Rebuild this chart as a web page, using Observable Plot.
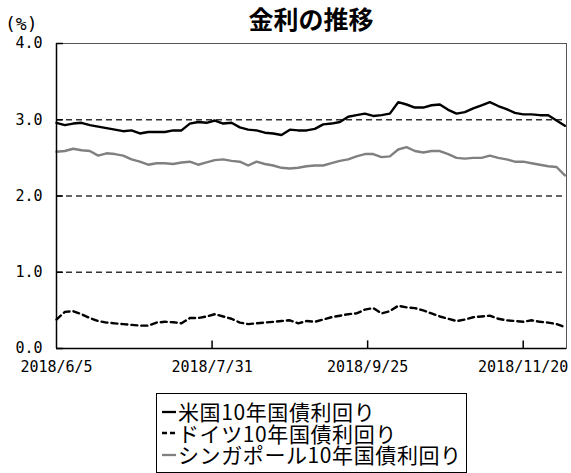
<!DOCTYPE html>
<html>
<head>
<meta charset="utf-8">
<script src="https://cdn.jsdelivr.net/npm/d3@7"></script>
<script src="https://cdn.jsdelivr.net/npm/@observablehq/plot@0.6"></script>
<style>
  body { margin: 0; background: #fff; }
  #wrap { position: relative; width: 571px; height: 473px; overflow: hidden; }
  #title { position: absolute; left: 56px; width: 510px; top: 3px; text-align: center;
           font: bold 25px "Noto Sans CJK JP"; line-height: 30px; color: #000; }
  #unit { position: absolute; left: 5px; top: 14px; height: 19px; font: 18px "DejaVu Sans Mono"; line-height: 19px; color: #000; }
  #chart { position: absolute; left: 0; top: 0; }
  #legend { position: absolute; left: 156px; top: 393px; width: 311px; height: 80px; box-sizing: border-box;
            border: 1.5px solid #000; padding-top: 7px; font: 21px "Noto Sans CJK JP"; letter-spacing: 0.6px; color: #000; }
  .row { display: flex; align-items: center; height: 21.5px; line-height: 21.5px; white-space: nowrap; overflow: visible; }
  .row svg { margin-left: 5px; margin-right: 2px; flex: none; }
  .row span { display: inline-block; height: 21.5px; line-height: 21.5px; overflow: visible; }
</style>
</head>
<body>
<div id="wrap">
  <div id="chart"></div>
  <div id="title"></div>
  <div id="unit"></div>
  <div id="legend"></div>
</div>
<script>
const titleText = "金利の推移";
const unitText = "(%)";
const seriesNames = ["米国10年国債利回り", "ドイツ10年国債利回り", "シンガポール10年国債利回り"];
const xTickLabels = ["2018/6/5", "2018/7/31", "2018/9/25", "2018/11/20"];
const yTicks = [0, 1, 2, 3, 4];
const gridLevels = [1, 2, 3];

const dates = [
  "2018-06-05","2018-06-08","2018-06-11","2018-06-14","2018-06-17","2018-06-20","2018-06-23","2018-06-26","2018-06-29","2018-07-02",
  "2018-07-05","2018-07-08","2018-07-11","2018-07-14","2018-07-17","2018-07-20","2018-07-23","2018-07-26","2018-07-29","2018-08-01",
  "2018-08-04","2018-08-07","2018-08-10","2018-08-13","2018-08-16","2018-08-19","2018-08-22","2018-08-25","2018-08-28","2018-08-31",
  "2018-09-03","2018-09-06","2018-09-09","2018-09-12","2018-09-15","2018-09-18","2018-09-21","2018-09-24","2018-09-27","2018-09-30",
  "2018-10-03","2018-10-06","2018-10-09","2018-10-12","2018-10-15","2018-10-18","2018-10-21","2018-10-24","2018-10-27","2018-10-30",
  "2018-11-02","2018-11-05","2018-11-08","2018-11-11","2018-11-14","2018-11-17","2018-11-20","2018-11-23","2018-11-26","2018-11-29",
  "2018-12-02","2018-12-05"
];

const usYield = [
  2.96,2.93,2.95,2.96,2.93,2.91,2.89,2.87,2.85,2.86,
  2.82,2.84,2.84,2.84,2.86,2.86,2.95,2.97,2.96,2.99,
  2.95,2.96,2.90,2.87,2.86,2.83,2.82,2.80,2.87,2.86,
  2.86,2.88,2.94,2.95,2.97,3.04,3.06,3.08,3.05,3.06,
  3.08,3.23,3.20,3.16,3.16,3.19,3.20,3.13,3.08,3.10,
  3.15,3.19,3.23,3.18,3.14,3.09,3.07,3.07,3.06,3.06,
  2.99,2.92
];

const deYield = [
  0.38,0.48,0.49,0.45,0.40,0.36,0.34,0.33,0.32,0.31,
  0.30,0.30,0.34,0.35,0.345,0.33,0.40,0.40,0.42,0.45,
  0.42,0.39,0.34,0.32,0.33,0.34,0.35,0.36,0.37,0.33,
  0.36,0.35,0.38,0.41,0.43,0.45,0.46,0.51,0.53,0.46,
  0.49,0.56,0.54,0.53,0.50,0.46,0.42,0.39,0.36,0.38,
  0.41,0.42,0.43,0.39,0.37,0.36,0.35,0.37,0.35,0.34,
  0.32,0.28
];

const sgYield = [
  2.58,2.59,2.62,2.60,2.59,2.53,2.56,2.55,2.53,2.48,
  2.45,2.41,2.43,2.43,2.42,2.44,2.45,2.41,2.44,2.47,
  2.48,2.46,2.45,2.40,2.45,2.42,2.40,2.37,2.36,2.37,
  2.39,2.40,2.40,2.43,2.46,2.48,2.52,2.55,2.55,2.51,
  2.52,2.61,2.64,2.59,2.57,2.59,2.59,2.55,2.50,2.49,
  2.50,2.50,2.53,2.50,2.48,2.45,2.45,2.43,2.41,2.39,
  2.38,2.27
];

const seriesStyles = [
  {stroke: "#000", dash: null},
  {stroke: "#000", dash: "6,4"},
  {stroke: "#808080", dash: null}
];

const parseDate = d3.utcParse("%Y-%m-%d");
const parseTick = d3.utcParse("%Y/%m/%d");
const fmtTick = d3.utcFormat("%Y/%-m/%-d");
const xTickDates = xTickLabels.map(parseTick);
const xStart = parseDate(dates[0]);
const xEnd = new Date(Date.UTC(2018, 11, 5, 14));
const yTickLen = 2.5 * 864e5;

const allValues = [usYield, deYield, sgYield];
const rows = [];
allValues.forEach((vals, s) => vals.forEach((v, i) => rows.push({date: parseDate(dates[i]), value: v, series: seriesNames[s]})));

const lineMarks = seriesNames.map((name, s) => Plot.line(rows.filter(r => r.series === name), {
  x: "date", y: "value", stroke: seriesStyles[s].stroke, strokeWidth: 2.4,
  strokeDasharray: seriesStyles[s].dash || undefined, strokeLinejoin: "round"
}));

const chart = Plot.plot({
  width: 571, height: 385,
  marginTop: 43, marginLeft: 56, marginRight: 5, marginBottom: 37,
  style: {fontFamily: "DejaVu Sans Mono", fontSize: "15px", color: "#000", background: "transparent", overflow: "visible"},
  x: {type: "utc", domain: [xStart, xEnd], label: null},
  y: {domain: [0, 4], label: null},
  marks: [
    Plot.ruleY(gridLevels, {stroke: "#333", strokeWidth: 1.3, strokeDasharray: "6,4"}),
    Plot.frame({stroke: "#555", strokeWidth: 1}),
    ...lineMarks,
    Plot.ruleX([xStart], {stroke: "#000", strokeWidth: 1.5}),
    Plot.ruleY([0], {stroke: "#000", strokeWidth: 1.5}),
    Plot.ruleX(xTickDates.slice(1), {x: d => d, y1: 0, y2: 0.1, stroke: "#000", strokeWidth: 1.5}),
    Plot.ruleY(yTicks, {y: d => d, x1: () => xStart, x2: () => new Date(+xStart + yTickLen), stroke: "#000", strokeWidth: 1.5}),
    Plot.axisX(xTickDates, {tickSize: 0, tickPadding: 13, tickFormat: fmtTick, fill: "#000", label: null}),
    Plot.axisY(yTicks, {tickSize: 0, tickPadding: 14, tickFormat: d3.format(".1f"), fill: "#000", label: null})
  ]
});
document.getElementById("chart").appendChild(chart);
document.getElementById("title").textContent = titleText;
document.getElementById("unit").textContent = unitText;

const legend = document.getElementById("legend");
seriesNames.forEach((name, s) => {
  const row = document.createElement("div");
  row.className = "row";
  const st = seriesStyles[s];
  row.innerHTML = `<svg width="14" height="10"><line x1="0" x2="14" y1="5" y2="5" stroke="${st.stroke}" stroke-width="2.3" ${st.dash ? 'stroke-dasharray="5,3"' : ''}/></svg><span></span>`;
  row.querySelector("span").textContent = name;
  legend.appendChild(row);
});
</script>
</body>
</html>
